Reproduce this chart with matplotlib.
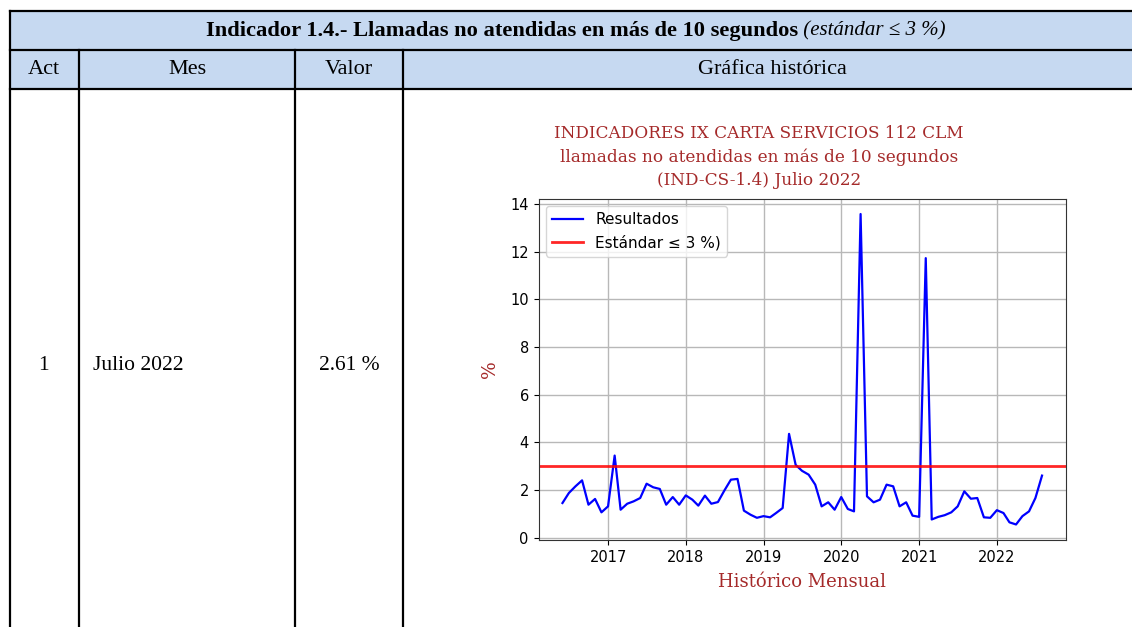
import matplotlib
matplotlib.use("Agg")
import matplotlib.pyplot as plt
import pandas as pd
from matplotlib.patches import Rectangle
from matplotlib.lines import Line2D

# ---------------- data ----------------
values = [1.46, 1.88, 2.16, 2.41, 1.39, 1.63, 1.07, 1.32, 3.45, 1.18,
          1.43, 1.53, 1.67, 2.27, 2.12, 2.05, 1.39, 1.71, 1.39, 1.78,
          1.60, 1.35, 1.77, 1.43, 1.50, 1.98, 2.44, 2.47, 1.14, 0.97,
          0.84, 0.91, 0.86, 1.04, 1.25, 4.36, 3.06, 2.81, 2.65, 2.23,
          1.32, 1.49, 1.18, 1.71, 1.21, 1.11, 13.58, 1.74, 1.49, 1.60,
          2.23, 2.16, 1.32, 1.49, 0.93, 0.88, 11.73, 0.77, 0.88, 0.95,
          1.07, 1.32, 1.95, 1.64, 1.67, 0.86, 0.84, 1.16, 1.04, 0.65,
          0.56, 0.91, 1.11, 1.67, 2.61]
dates = pd.date_range("2016-05-31", periods=len(values), freq="ME")
standard = 3.0

header_title = "Indicador 1.4.- Llamadas no atendidas en más de 10 segundos"
header_std = "(estándar ≤ 3 %)"
col_headers = ["Act", "Mes", "Valor", "Gráfica histórica"]
row_values = ["1", "Julio 2022", "2.61 %"]
chart_title = ("INDICADORES IX CARTA SERVICIOS 112 CLM\n"
               "llamadas no atendidas en más de 10 segundos\n"
               "(IND-CS-1.4) Julio 2022")
legend_labels = ["Resultados", "Estándar ≤ 3 %)"]

# ---------------- figure ----------------
W, H = 1132, 627
fig = plt.figure(figsize=(W / 100, H / 100), dpi=100)
fig.patch.set_facecolor("white")

bg = fig.add_axes([0, 0, 1, 1])
bg.set_xlim(0, W)
bg.set_ylim(H, 0)
bg.axis("off")

blue = "#C6D9F1"
lw = 1.6
top, r1, r2 = 11, 50, 89
xl, c1, c2, c3, xr = 9.5, 79, 295, 402.5, 1140

bg.add_patch(Rectangle((xl, top), xr - xl, r2 - top, facecolor=blue, edgecolor="none"))
for y in (top, r1, r2):
    bg.add_line(Line2D([xl, xr], [y, y], color="black", lw=lw))
bg.add_line(Line2D([xl, xl], [top, H + 5], color="black", lw=lw))
for x in (c1, c2, c3):
    bg.add_line(Line2D([x, x], [r1, H + 5], color="black", lw=lw))

serif_tab = "Liberation Serif"
t1 = bg.text(0, 0, header_title, fontsize=16.2, fontweight="bold", family=serif_tab)
t2 = bg.text(0, 0, " " + header_std, fontsize=15, style="italic", family=serif_tab)
fig.canvas.draw()
r = fig.canvas.get_renderer()
w1 = t1.get_window_extent(r).width
w2 = t2.get_window_extent(r).width
x0 = 576 - (w1 + w2) / 2
t1.set_position((x0, 31)); t1.set_va("center")
t2.set_position((x0 + w1, 31)); t2.set_va("center")

hy = 70
fs_hdr = 16
bg.text(43.5, hy, col_headers[0], ha="center", va="center", fontsize=fs_hdr, family=serif_tab)
bg.text(187, hy, col_headers[1], ha="center", va="center", fontsize=fs_hdr, family=serif_tab)
bg.text(349, hy, col_headers[2], ha="center", va="center", fontsize=fs_hdr, family=serif_tab)
bg.text(772, hy, col_headers[3], ha="center", va="center", fontsize=fs_hdr, family=serif_tab)

by = 365
fs_body = 15.5
bg.text(43.5, by, row_values[0], ha="center", va="center", fontsize=fs_body, family=serif_tab)
bg.text(93, by, row_values[1], ha="left", va="center", fontsize=fs_body, family=serif_tab)
bg.text(349, by, row_values[2], ha="center", va="center", fontsize=fs_body, family=serif_tab)

# ---------------- chart ----------------
al, ar, at, ab = 538.5, 1066, 198.5, 540
ax = fig.add_axes([al / W, 1 - ab / H, (ar - al) / W, (ab - at) / H])
ax.plot(dates, values, color="blue", lw=1.6, label=legend_labels[0])
ax.axhline(standard, color="red", lw=2.0, alpha=0.85, label=legend_labels[1])
ax.grid(True, color="#b8b8b8", lw=1.0)
ax.set_yticks(range(0, 15, 2))
ax.tick_params(labelsize=10.5)
for s in ax.spines.values():
    s.set_color("#333333")
ax.legend(loc="upper left", fontsize=11, framealpha=0.8)

red = "#A52A2A"
ax.set_xlabel("Histórico Mensual", family="DejaVu Serif", fontsize=13, color=red, labelpad=6)
ax.set_ylabel("%", family="DejaVu Serif", fontsize=13.5, color=red, labelpad=8)
fig.text(759 / W, 1 - 157 / H, chart_title, ha="center", va="center",
         family="DejaVu Serif", fontsize=12.2, color=red, linespacing=1.45)

fig.savefig("out.png", dpi=100, facecolor="white")
